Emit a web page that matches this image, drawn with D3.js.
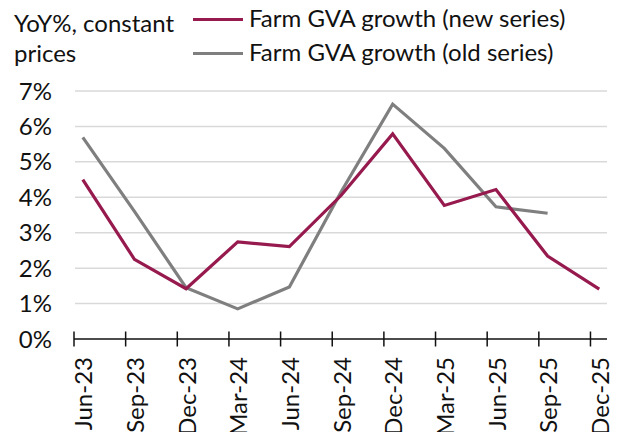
<!DOCTYPE html>
<html>
<head>
<meta charset="utf-8">
<script src="https://cdn.jsdelivr.net/npm/d3@7"></script>
<style>
  body { margin: 0; background: #fff; }
  svg { font-family: Lato, "Open Sans", sans-serif; }
</style>
</head>
<body>
<svg></svg>
<script>
const width = 620;
const height = 432;

// data
const quarters = ["Jun-23", "Sep-23", "Dec-23", "Mar-24", "Jun-24", "Sep-24",
                  "Dec-24", "Mar-25", "Jun-25", "Sep-25", "Dec-25"];
const newSeries = [4.5, 2.25, 1.42, 2.74, 2.61, 4.05, 5.79, 3.77, 4.22, 2.34, 1.41];
const oldSeries = [5.69, 3.6, 1.45, 0.85, 1.47, 4.15, 6.63, 5.38, 3.73, 3.55, null];
const yTicks = [0, 1, 2, 3, 4, 5, 6, 7];
const legendNames = ["Farm GVA growth (new series)", "Farm GVA growth (old series)"];
const colors = ["#961a4e", "#7f7f7f"];

const fontSize = "24px";
const svg = d3.select("svg").attr("width", width).attr("height", height);

// points sit a little right of their tick mark, like the source chart
const offset = 0.17;
const x = d3.scaleLinear().domain([0, 10.32]).range([74, 607]);
const y = d3.scaleLinear().domain([0, 7]).range([339, 91]);

// gridlines
svg.append("g")
    .selectAll("line")
    .data(yTicks.filter(d => d > 0))
    .enter().append("line")
    .attr("x1", 75).attr("x2", 607)
    .attr("y1", d => y(d)).attr("y2", d => y(d))
    .style("stroke", "#d9d9d9")
    .style("stroke-width", 1.5);

// y labels
svg.append("g")
    .selectAll("text")
    .data(yTicks)
    .enter().append("text")
    .attr("x", 52)
    .attr("y", d => y(d))
    .attr("dy", "0.36em")
    .attr("text-anchor", "end")
    .style("font-size", fontSize)
    .style("fill", "#111")
    .text(d => d + "%");

// x axis with ticks crossing the line
const xAxis = svg.append("g").attr("transform", `translate(0,${y(0)})`);
xAxis.append("line")
    .attr("x1", 74).attr("x2", 607)
    .style("stroke", "#111").style("stroke-width", 1.5);
xAxis.selectAll(".tick")
    .data(quarters)
    .enter().append("line")
    .attr("x1", (d, i) => x(i)).attr("x2", (d, i) => x(i))
    .attr("y1", -7.5).attr("y2", 7.5)
    .style("stroke", "#111").style("stroke-width", 1.5);
xAxis.selectAll("text")
    .data(quarters)
    .enter().append("text")
    .attr("transform", (d, i) => `translate(${x(i + offset) + 1},18) rotate(-90)`)
    .attr("dy", "0.36em")
    .attr("text-anchor", "end")
    .style("font-size", fontSize)
    .style("fill", "#111")
    .text(d => d);

// lines
const line = d3.line()
    .defined(d => d != null)
    .x((d, i) => x(i + offset))
    .y(d => y(d));

[newSeries, oldSeries].forEach((s, k) => {
    svg.append("path")
        .datum(s)
        .attr("d", line)
        .style("fill", "none")
        .style("stroke", colors[k])
        .style("stroke-width", 3.2)
        .style("stroke-linejoin", "miter");
});
// keep the new series on top
svg.select("path").raise();

// title
svg.append("text")
    .attr("x", 14).attr("y", 31.5)
    .style("font-size", fontSize).style("fill", "#111")
    .text("YoY%, constant");
svg.append("text")
    .attr("x", 14).attr("y", 61.5)
    .style("font-size", fontSize).style("fill", "#111")
    .text("prices");

// legend
const legend = svg.append("g");
const rowY = [19.5, 53.5];
legendNames.forEach((name, k) => {
    legend.append("line")
        .attr("x1", 193).attr("x2", 243)
        .attr("y1", rowY[k]).attr("y2", rowY[k])
        .style("stroke", colors[k]).style("stroke-width", 3.2);
    legend.append("text")
        .attr("x", 249).attr("y", rowY[k] + 7.5)
        .style("font-size", fontSize).style("fill", "#111")
        .text(name);
});
</script>
</body>
</html>
